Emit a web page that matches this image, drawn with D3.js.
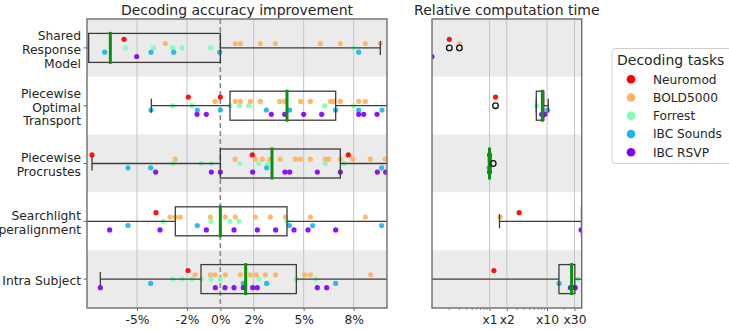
<!DOCTYPE html>
<html><head><meta charset="utf-8">
<script src="https://cdn.jsdelivr.net/npm/d3@7"></script>
<style>body{margin:0;background:#fff;}svg{display:block;font-family:"DejaVu Sans",sans-serif;}</style>
</head><body><svg id="c" width="729" height="331"></svg>
<script>
// ---------- data ----------
const categories = ["Shared\nResponse\nModel", "Piecewise\nOptimal\nTransport", "Piecewise\nProcrustes", "Searchlight\nHyperalignment", "Intra Subject"];
const datasets = ["Neuromod", "BOLD5000", "Forrest", "IBC Sounds", "IBC RSVP"];
const colors = ["#ff0000", "#ffb360", "#80ffb4", "#1cb5eb", "#8000ff"];
const accTicks = [-5, -2, 0, 2, 5, 8];
const accTickLabels = ["-5%", "-2%", "0%", "2%", "5%", "8%"];
const timeTicks = [1, 2, 10, 30];
const timeTickLabels = ["x1", "x2", "x10", "x30"];

// decoding accuracy improvement (%), per dataset, per category
const accNeuromod = [[-5.78], [-1.92, 0.0], [-7.7, 1.92, 7.68], [-3.86], [-1.94]];
const accBold = [[-3.3, 0.9, 1.2, 2.4, 3.3, 6.0, 7.2, 8.7, 9.6],
  [-0.32, 0.9, 1.2, 1.8, 2.4, 3.56, 3.86, 4.82, 5.4, 6.62, 6.78, 7.2, 8.3, 8.7],
  [-2.7, 0.88, 2.1, 2.52, 2.98, 3.6, 4.5, 4.8, 5.4, 6.3, 6.5, 7.2, 7.96, 9.0, 9.9],
  [-3.02, -2.7, -2.4, -0.6, 0.3, 0.9, 2.1, 3.0, 3.9, 5.4, 8.7],
  [-1.52, -0.6, -0.3, 0.3, 1.2, 1.8, 2.16, 2.7, 3.32, 5.06, 5.4, 9.02]];
const accForrest = [[-5.68, -4.0, -2.86, -2.3, -0.58, 8.0],
  [-2.86, -1.7, 0.58, 1.14, 1.7, 6.26, 8.0],
  [-2.84, -1.14, -0.54, 1.16, 2.3, 2.86, 6.3, 7.42],
  [-3.42, -0.56, 0.58, 1.12, 4.0],
  [-2.86, -2.28, -1.7, -1.12, -0.56, 0, 2.32, 4.56, 5.72]];
const accSounds = [[-6.94, -4.16, -2.8, -0.04, 8.3],
  [-4.16, -1.38, 0, 2.76, 4.16, 6.92, 8.3, 9.7],
  [-5.54, -4.18, 2.78, 9.68],
  [-5.54, -1.38, 4.14, 5.54, 9.68],
  [-4.18, 1.38, 2.78, 6.92]];
const accRsvp = [[-5.02],
  [-1.4, -0.84, 3.06, 3.86, 5.0, 6.08, 8.3, 8.6, 9.4],
  [-3.88, -0.54, 0, 1.94, 3.88, 4.16, 5.82, 7.2, 9.42, 9.92],
  [-6.64, -3.62, -0.84, 0.82, 2.22, 3.32, 4.42, 5.26, 6.92],
  [-7.2, -0.3, 0.28, 0.82, 1.38, 1.94, 2.22, 5.82, 6.38]];
const accWhiskerLow = [-9, -4.14, -7.7, -9, -7.2];
const accQ1 = [-7.9, 0.58, 0, -2.7, -1.16];
const accMedian = [-6.6, 4.0, 3.1, 0, 1.52];
const accQ3 = [0, 6.92, 7.2, 4.0, 4.56];
const accWhiskerHigh = [9.6, 11, 11, 11, 11];
const accFliers = [[], [], [], [], []];

// relative computation time
const timeNeuromod = [[0.2], [1.27], [1.0], [3.27], [1.19]];
const timeBold = [[0.3], [], [1.0], [1.53], []];
const timeForrest = [[], [6.6], [1.02], [], [34.4]];
const timeSounds = [[], [10.2], [0.98], [], [16.2]];
const timeRsvp = [[0.1], [8.07, 9.2], [1.0], [39], [25.5, 28.4, 31]];
const timeWhiskerLow = [0.02, 6.5, 0.96, 1.49, 0.05];
const timeQ1 = [0.03, 6.5, 0.98, 39.6, 16.1];
const timeMedian = [0.04, 8.3, 1.0, 60, 26.7];
const timeQ3 = [0.05, 8.8, 1.03, 80, 30.4];
const timeWhiskerHigh = [0.08, 10.5, 1.06, 100, 45];
const timeFliers = [[0.2, 0.3], [1.27], [1.16], [], []];

// ---------- drawing ----------
const svg = d3.select("#c");
const yTop = 19, yBottom = 308;
const y = d3.scaleBand().domain(categories).range([yTop, yBottom]).paddingInner(0);
const textColor = "#262626";

function panel(opts) {
  const {x, x0, x1, series, wl, q1, med, q3, wh, fliers, ticks, tickLabels, title, id, log} = opts;
  const g = svg.append("g");
  svg.append("clipPath").attr("id", id).append("rect")
    .attr("x", x0).attr("y", yTop).attr("width", x1 - x0).attr("height", yBottom - yTop);
  // bands
  g.selectAll("rect.band").data(categories).join("rect")
    .attr("x", x0).attr("y", d => y(d)).attr("width", x1 - x0).attr("height", y.bandwidth())
    .attr("fill", (d, i) => i % 2 === 0 ? "#ebebeb" : "#ffffff");
  // grid
  g.selectAll("line.grid").data(ticks.filter(t => !(id === "cl" && t === 0))).join("line")
    .attr("x1", d => x(d)).attr("x2", d => x(d)).attr("y1", yTop).attr("y2", yBottom)
    .attr("stroke", "#c4c4c4").attr("stroke-width", 1);
  const inner = g.append("g").attr("clip-path", `url(#${id})`);
  if (id === "cl") {
    inner.append("line").attr("x1", x(0)).attr("x2", x(0)).attr("y1", yTop).attr("y2", yBottom)
      .attr("stroke", "#8a8a8a").attr("stroke-width", 1.6).attr("stroke-dasharray", "5,3");
  }
  // points
  series.forEach((s, si) => {
    categories.forEach((c, ci) => {
      const cy = y(c) + y.bandwidth() / 2 + (si - 2) * 4.3;
      inner.selectAll(null).data(s[ci]).join("circle")
        .attr("cx", d => x(d)).attr("cy", cy).attr("r", 2.6)
        .attr("fill", colors[si]).attr("opacity", 0.92);
    });
  });
  // boxes
  const bh = 14.5;
  categories.forEach((c, ci) => {
    const cy = y(c) + y.bandwidth() / 2;
    const st = "#3d3d3d";
    inner.append("line").attr("x1", x(wl[ci])).attr("x2", x(q1[ci])).attr("y1", cy).attr("y2", cy).attr("stroke", st).attr("stroke-width", 1.3);
    inner.append("line").attr("x1", x(q3[ci])).attr("x2", x(wh[ci])).attr("y1", cy).attr("y2", cy).attr("stroke", st).attr("stroke-width", 1.3);
    [wl[ci], wh[ci]].forEach(v => inner.append("line").attr("x1", x(v)).attr("x2", x(v)).attr("y1", cy - 7).attr("y2", cy + 7).attr("stroke", st).attr("stroke-width", 1.3));
    inner.append("rect").attr("x", x(q1[ci])).attr("y", cy - bh).attr("width", x(q3[ci]) - x(q1[ci])).attr("height", 2 * bh)
      .attr("fill", "none").attr("stroke", st).attr("stroke-width", 1.3);
    inner.append("line").attr("x1", x(med[ci])).attr("x2", x(med[ci])).attr("y1", cy - bh - 1.5).attr("y2", cy + bh + 1.5)
      .attr("stroke", "#0f8f0f").attr("stroke-width", 3);
    inner.selectAll(null).data(fliers[ci]).join("circle")
      .attr("cx", d => x(d)).attr("cy", cy).attr("r", 2.8).attr("fill", "none").attr("stroke", "#111").attr("stroke-width", 1.3);
  });
  // spines
  g.append("rect").attr("x", x0).attr("y", yTop).attr("width", x1 - x0).attr("height", yBottom - yTop)
    .attr("fill", "none").attr("stroke", "#6e6e6e").attr("stroke-width", 1.4);
  // x axis
  const ax = g.append("g").attr("transform", `translate(0,${yBottom})`)
    .call(d3.axisBottom(x).tickValues(ticks).tickFormat((d, i) => tickLabels[i]).tickSize(3).tickPadding(4));
  ax.select(".domain").remove();
  ax.selectAll(".tick line").attr("stroke", "#6e6e6e");
  ax.selectAll(".tick text").attr("fill", textColor).attr("font-size", 12.3).attr("font-family", "DejaVu Sans");
  if (log) {
    const minor = [];
    [0.1, 1, 10].forEach(b => { for (let k = 2; k <= 9; k++) { const v = b * k; if (v < 40 && !ticks.includes(v)) minor.push(v); } });
    g.selectAll("line.minor").data(minor).join("line")
      .attr("x1", d => x(d)).attr("x2", d => x(d)).attr("y1", yBottom).attr("y2", yBottom + 2)
      .attr("stroke", "#6e6e6e").attr("stroke-width", 0.8);
  }
  // title
  svg.append("text").attr("x", (x0 + x1) / 2).attr("y", 15).attr("text-anchor", "middle")
    .attr("font-size", 14).attr("fill", textColor).text(title);
  return g;
}

const xAcc = d3.scaleLinear().domain([-8, 10]).range([87, 387]);
const xTime = d3.scaleLog().domain([0.1, 40]).range([432, 581.7]);

panel({x: xAcc, x0: 87, x1: 387, series: [accNeuromod, accBold, accForrest, accSounds, accRsvp],
  wl: accWhiskerLow, q1: accQ1, med: accMedian, q3: accQ3, wh: accWhiskerHigh, fliers: accFliers,
  ticks: accTicks, tickLabels: accTickLabels, title: "Decoding accuracy improvement", id: "cl", log: false});
panel({x: xTime, x0: 432, x1: 581.7, series: [timeNeuromod, timeBold, timeForrest, timeSounds, timeRsvp],
  wl: timeWhiskerLow, q1: timeQ1, med: timeMedian, q3: timeQ3, wh: timeWhiskerHigh, fliers: timeFliers,
  ticks: timeTicks, tickLabels: timeTickLabels, title: "Relative computation time", id: "cr", log: true});

// y axis labels (left panel)
categories.forEach(c => {
  const cy = y(c) + y.bandwidth() / 2;
  svg.append("line").attr("x1", 83.5).attr("x2", 87).attr("y1", cy).attr("y2", cy).attr("stroke", "#6e6e6e").attr("stroke-width", 1);
  const lines = c.split("\n");
  const t = svg.append("text").attr("text-anchor", "end").attr("font-size", 12.3).attr("fill", textColor);
  lines.forEach((l, i) => {
    t.append("tspan").attr("x", 81).attr("y", cy + 1.5 + (i - (lines.length - 1) / 2) * 13.8).attr("dy", "0.35em").text(l);
  });
});

// legend
const lg = svg.append("g");
lg.append("rect").attr("x", 612).attr("y", 48.5).attr("width", 140).attr("height", 115).attr("rx", 3)
  .attr("fill", "#fff").attr("stroke", "#d0d0d0").attr("stroke-width", 1);
lg.append("text").attr("x", 617).attr("y", 60).attr("dy", "0.35em").attr("font-size", 14).attr("fill", textColor).text("Decoding tasks");
datasets.forEach((d, i) => {
  const cy = 79.3 + i * 18.25;
  lg.append("circle").attr("cx", 631).attr("cy", cy).attr("r", 4.3).attr("fill", colors[i]);
  lg.append("text").attr("x", 653).attr("y", cy).attr("dy", "0.35em").attr("font-size", 12.2).attr("fill", textColor).text(d);
});
</script></body></html>
